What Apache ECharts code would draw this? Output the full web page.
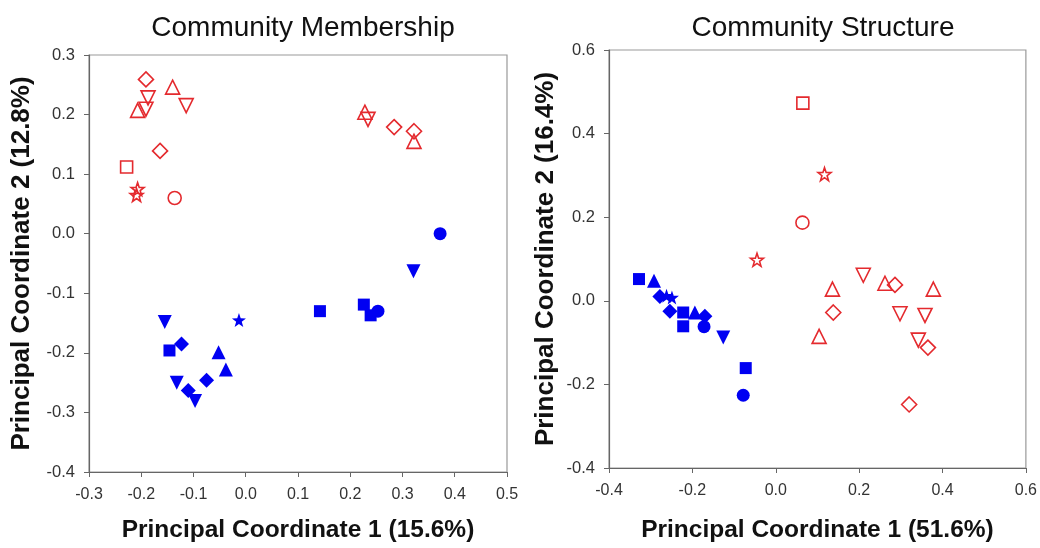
<!DOCTYPE html>
<html>
<head>
<meta charset="utf-8">
<script src="https://cdn.jsdelivr.net/npm/echarts@6/dist/echarts.min.js"></script>
<style>
html,body{margin:0;padding:0;background:#fff;}
#c{width:1040px;height:548px;}
</style>
</head>
<body>
<div id="c"></div>
<script>
// Community Membership (PCo1 15.6%, PCo2 12.8%)
const memRedDiamond = [[-0.191,0.259],[-0.164,0.139],[0.284,0.179],[0.322,0.172]];
const memRedTriUp = [[-0.140,0.246],[-0.207,0.207],[0.228,0.204],[0.322,0.155]];
const memRedTriDown = [[-0.187,0.228],[-0.114,0.215],[-0.191,0.209],[0.234,0.192]];
const memRedSquare = [[-0.228,0.112]];
const memRedStar = [[-0.207,0.075],[-0.209,0.065]];
const memRedCircle = [[-0.136,0.060]];
const memBlueCircle = [[0.372,0.000],[0.253,-0.130]];
const memBlueTriDown = [[0.321,-0.063],[-0.155,-0.148],[-0.132,-0.250],[-0.097,-0.281]];
const memBlueSquare = [[0.142,-0.130],[0.226,-0.119],[0.239,-0.137],[-0.146,-0.196]];
const memBlueStar = [[-0.013,-0.145]];
const memBlueDiamond = [[-0.123,-0.185],[-0.110,-0.263],[-0.075,-0.246]];
const memBlueTriUp = [[-0.052,-0.199],[-0.038,-0.228]];

// Community Structure (PCo1 51.6%, PCo2 16.4%)
const strRedSquare = [[0.065,0.473]];
const strRedStar = [[0.117,0.303],[-0.045,0.098]];
const strRedCircle = [[0.064,0.187]];
const strRedTriDown = [[0.210,0.061],[0.298,-0.031],[0.358,-0.035],[0.342,-0.094]];
const strRedTriUp = [[0.262,0.042],[0.136,0.028],[0.378,0.028],[0.104,-0.085]];
const strRedDiamond = [[0.286,0.038],[0.138,-0.028],[0.365,-0.112],[0.320,-0.248]];
const strBlueSquare = [[-0.328,0.052],[-0.222,-0.028],[-0.222,-0.061],[-0.072,-0.161]];
const strBlueTriUp = [[-0.292,0.048],[-0.194,-0.028]];
const strBlueDiamond = [[-0.278,0.010],[-0.254,-0.025],[-0.170,-0.037]];
const strBlueStar = [[-0.262,0.012],[-0.249,0.008]];
const strBlueCircle = [[-0.172,-0.062],[-0.078,-0.226]];
const strBlueTriDown = [[-0.126,-0.088]];

// axis ranges: [min, max, interval]
const memXTicks = [-0.3, 0.5, 0.1];
const memYTicks = [-0.4, 0.3, 0.1];
const strXTicks = [-0.4, 0.6, 0.2];
const strYTicks = [-0.4, 0.6, 0.2];

const RED = '#e42a2e';
const BLUE = '#0000f2';
const TRI_DOWN = 'path://M0,0 L10,0 L5,9 Z';
const STAR = 'path://M5,0 L6.18,3.38 L9.76,3.45 L6.9,5.62 L7.94,9.05 L5,7 L2.06,9.05 L3.1,5.62 L0.24,3.45 L3.82,3.38 Z';
const FONT = 'Liberation Sans';

function pts(data, idx, symbol, size, filled, color) {
  return {
    type: 'scatter',
    xAxisIndex: idx, yAxisIndex: idx,
    data: data,
    symbol: symbol,
    symbolSize: size,
    itemStyle: filled
      ? {color: color, borderColor: color, borderWidth: 0, opacity: 1}
      : {color: 'transparent', borderColor: color, borderWidth: 1.6, opacity: 1},
    emphasis: {disabled: true}
  };
}

function axis(idx, t, name, gap, nameSize, labelSize, labelMargin) {
  return {
    type: 'value', gridIndex: idx, min: t[0], max: t[1], interval: t[2],
    name: name, nameLocation: 'middle', nameGap: gap,
    nameTextStyle: {fontFamily: FONT, fontWeight: 'bold', fontSize: nameSize, color: '#111'},
    axisLine: {onZero: false, lineStyle: {color: '#666', width: 1.2}},
    axisTick: {length: 5, lineStyle: {color: '#666'}},
    axisLabel: {fontFamily: FONT, fontSize: labelSize, color: '#333', margin: labelMargin,
      formatter: v => v.toFixed(1)},
    splitLine: {show: false}
  };
}

const chart = echarts.init(document.getElementById('c'), null, {renderer: 'canvas'});
chart.setOption({
  animation: false,
  backgroundColor: '#fff',
  title: [
    {text: 'Community Membership', left: 298, top: 9, textAlign: 'center',
      textStyle: {fontFamily: FONT, fontWeight: 'normal', fontSize: 28, color: '#111'}},
    {text: 'Community Structure', left: 818, top: 9, textAlign: 'center',
      textStyle: {fontFamily: FONT, fontWeight: 'normal', fontSize: 28, color: '#111'}}
  ],
  grid: [
    {left: 89, top: 55, right: 533, bottom: 71, show: true, borderColor: '#999', borderWidth: 1.2},
    {left: 609, top: 50, right: 13, bottom: 76, show: true, borderColor: '#999', borderWidth: 1.2}
  ],
  xAxis: [
    axis(0, memXTicks, 'Principal Coordinate 1 (15.6%)', 46, 24.5, 16, 15),
    axis(1, strXTicks, 'Principal Coordinate 1 (51.6%)', 50, 24.5, 16, 15)
  ],
  yAxis: [
    axis(0, memYTicks, 'Principal Coordinate 2 (12.8%)', 54, 26, 16.5, 14),
    axis(1, strYTicks, 'Principal Coordinate 2 (16.4%)', 50, 26, 16.5, 14)
  ],
  series: [
    pts(memRedDiamond, 0, 'diamond', 15, false, RED),
    pts(memRedTriUp, 0, 'triangle', 14, false, RED),
    pts(memRedTriDown, 0, TRI_DOWN, 14, false, RED),
    pts(memRedSquare, 0, 'rect', 12, false, RED),
    pts(memRedStar, 0, STAR, 13, false, RED),
    pts(memRedCircle, 0, 'circle', 13, false, RED),
    pts(memBlueCircle, 0, 'circle', 13, true, BLUE),
    pts(memBlueTriDown, 0, TRI_DOWN, 14, true, BLUE),
    pts(memBlueSquare, 0, 'rect', 12, true, BLUE),
    pts(memBlueStar, 0, STAR, 14, true, BLUE),
    pts(memBlueDiamond, 0, 'diamond', 15, true, BLUE),
    pts(memBlueTriUp, 0, 'triangle', 14, true, BLUE),

    pts(strRedSquare, 1, 'rect', 12, false, RED),
    pts(strRedStar, 1, STAR, 13, false, RED),
    pts(strRedCircle, 1, 'circle', 13, false, RED),
    pts(strRedTriDown, 1, TRI_DOWN, 14, false, RED),
    pts(strRedTriUp, 1, 'triangle', 14, false, RED),
    pts(strRedDiamond, 1, 'diamond', 15, false, RED),
    pts(strBlueSquare, 1, 'rect', 12, true, BLUE),
    pts(strBlueTriUp, 1, 'triangle', 14, true, BLUE),
    pts(strBlueDiamond, 1, 'diamond', 15, true, BLUE),
    pts(strBlueStar, 1, STAR, 14, true, BLUE),
    pts(strBlueCircle, 1, 'circle', 13, true, BLUE),
    pts(strBlueTriDown, 1, TRI_DOWN, 14, true, BLUE)
  ]
});
</script>
</body>
</html>
